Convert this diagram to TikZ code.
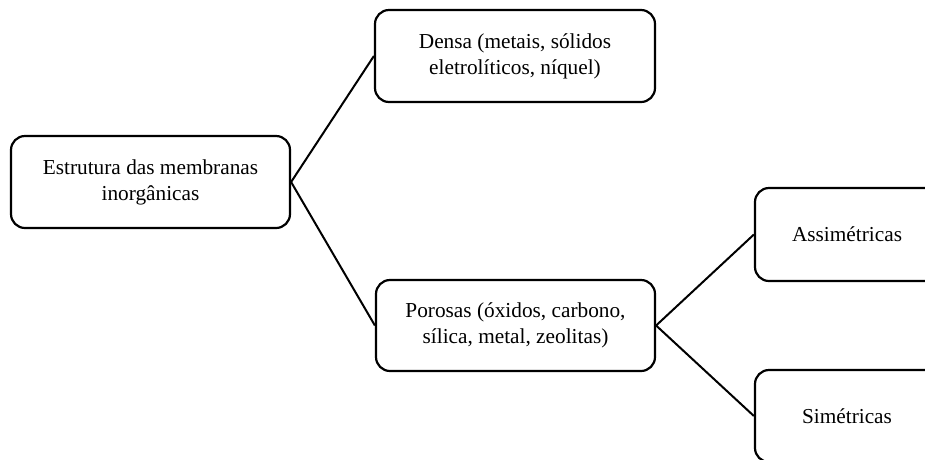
\documentclass[tikz,border=0pt]{standalone}
\usepackage{fontspec}
\setmainfont{Liberation Serif}
\begin{document}
\begin{tikzpicture}[x=1pt,y=-1pt,
  box/.style={draw=black, line width=2.2pt, rounded corners=14pt, fill=white,
    align=center, inner sep=0pt, font=\fontsize{21.3}{26}\selectfont},
  link/.style={draw=black, line width=2pt}]
\useasboundingbox (0,0) rectangle (925,459);
\clip (0,0) rectangle (925,459);
% boxes
\node[box, minimum width=279pt, minimum height=92pt] (root) at (150.5,182) {Estrutura das membranas\\inorgânicas};
\node[box, minimum width=280pt, minimum height=92pt] (dense) at (515,56) {Densa (metais, sólidos\\eletrolíticos, níquel)};
\node[box, minimum width=279pt, minimum height=91pt] (porous) at (515.5,325.5) {Porosas (óxidos, carbono,\\sílica, metal, zeolitas)};
\node[box, minimum width=184pt, minimum height=93pt] (asym) at (847,234.5) {Assimétricas};
\node[box, minimum width=184pt, minimum height=92pt] (sym) at (847,416) {Simétricas};
% connectors
\draw[link] (root.east) -- (dense.west);
\draw[link] (root.east) -- (porous.west);
\draw[link] (porous.east) -- (asym.west);
\draw[link] (porous.east) -- (sym.west);
\end{tikzpicture}
\end{document}
